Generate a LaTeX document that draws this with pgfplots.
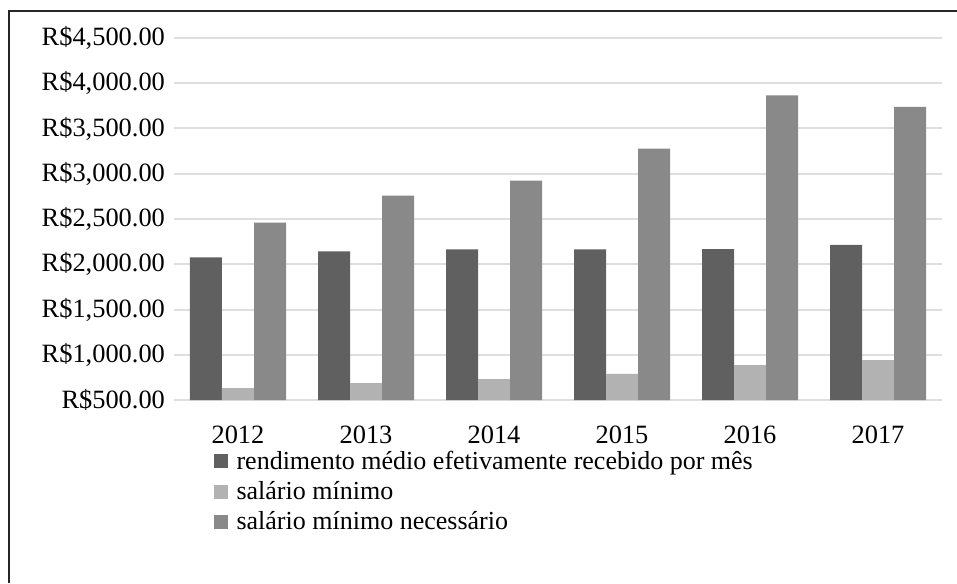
\documentclass[border=0pt]{standalone}
\usepackage{fontspec}
\setmainfont{Liberation Serif}
\usepackage{pgfplots}
\pgfplotsset{compat=1.18}

\definecolor{cdark}{HTML}{606060}
\definecolor{clight}{HTML}{B2B2B2}
\definecolor{cmid}{HTML}{898989}
\definecolor{cgrid}{HTML}{DEDEDE}

\begin{document}
\begin{tikzpicture}
\useasboundingbox (-87pt,-91.5pt) rectangle (391.5pt,200pt);
\draw[line width=1pt, black!85] (-82.25pt,-91.5pt) -- (-82.25pt,194.25pt) -- (391.5pt,194.25pt);
\begin{axis}[
  at={(0pt,0pt)}, anchor=south west,
  scale only axis,
  width=384pt, height=181pt,
  ybar=0pt, bar width=16pt,
  xmin=-0.5, xmax=5.5,
  ymin=500, ymax=4500,
  xtick={0,1,2,3,4,5},
  xticklabels={2012,2013,2014,2015,2016,2017},
  ytick={500,1000,1500,2000,2500,3000,3500,4000,4500},
  yticklabels={{R\$500.00},{R\$1,000.00},{R\$1,500.00},{R\$2,000.00},{R\$2,500.00},{R\$3,000.00},{R\$3,500.00},{R\$4,000.00},{R\$4,500.00}},
  ymajorgrids,
  major grid style={cgrid, line width=1pt},
  axis line style={draw=none},
  major tick style={draw=none},
  tick label style={font=\fontsize{13.2}{15}\selectfont},
  yticklabel style={anchor=east, xshift=-1pt},
  xticklabel style={yshift=-5pt},
  legend style={at={(0.051,-0.128)}, anchor=north west, draw=none, fill=none,
    font=\fontsize{13}{15}\selectfont, row sep=0.5pt, inner sep=0pt,
    /tikz/every odd column/.append style={column sep=2.5pt}},
  legend cell align=left,
  legend image code/.code={\fill[#1] (0pt,-3.5pt) rectangle (7pt,3.5pt);},
]
\addplot[fill=cdark, draw=none] coordinates {(0,2076) (1,2141) (2,2163) (3,2163) (4,2167) (5,2215)};
\addplot[fill=clight, draw=none] coordinates {(0,632) (1,687) (2,731) (3,790) (4,886) (5,940)};
\addplot[fill=cmid, draw=none] coordinates {(0,2461) (1,2758) (2,2924) (3,3277) (4,3867) (5,3739)};
\legend{rendimento médio efetivamente recebido por mês, salário mínimo, salário mínimo necessário}
\end{axis}
\end{tikzpicture}
\end{document}
